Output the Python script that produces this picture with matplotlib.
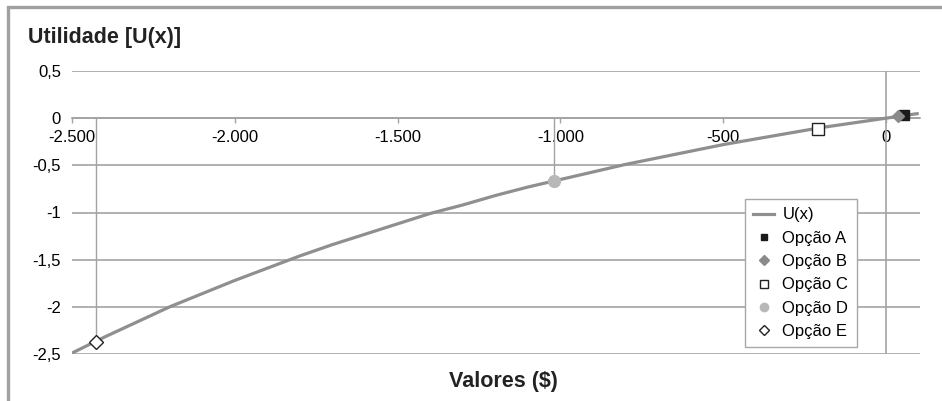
import matplotlib
matplotlib.use("Agg")
import matplotlib.pyplot as plt
from matplotlib.patches import Rectangle
from matplotlib.lines import Line2D

plt.rcParams['font.family'] = ['Liberation Sans', 'DejaVu Sans']

# Utility curve U(x), read every 100 $
valores = [-2500, -2400, -2300, -2200, -2100, -2000, -1900, -1800, -1700,
           -1600, -1500, -1400, -1300, -1200, -1100, -1000, -900, -800,
           -700, -600, -500, -400, -300, -200, -100, 0, 100]
utilidade = [-2.49, -2.32, -2.16, -2.00, -1.86, -1.72, -1.59, -1.46, -1.34,
             -1.23, -1.12, -1.01, -0.92, -0.82, -0.73, -0.65, -0.57, -0.49,
             -0.42, -0.35, -0.28, -0.22, -0.16, -0.10, -0.05, 0.00, 0.05]

# Options (value, utility)
opcoes = ['Opção A', 'Opção B', 'Opção C', 'Opção D', 'Opção E']
opcao_x = [55, 35, -210, -1020, -2425]
opcao_u = [0.03, 0.02, -0.11, -0.67, -2.37]

x_ticks = [-2500, -2000, -1500, -1000, -500, 0]
x_labels = ['-2.500', '-2.000', '-1.500', '-1.000', '-500', '0']
y_ticks = [0.5, 0, -0.5, -1, -1.5, -2, -2.5]
y_labels = ['0,5', '0', '-0,5', '-1', '-1,5', '-2', '-2,5']

grid_c = '#a3a3a3'
curve_c = '#8f8f8f'

fig = plt.figure(figsize=(9.42, 4.01), dpi=100)
ax = fig.add_axes([72 / 942, 1 - 354 / 401, (920 - 72) / 942, (354 - 71) / 401])

# chart frame
fig.patches.append(Rectangle((8 / 942, -0.1), 1.2, 1 - 7 / 401 + 0.1,
                             transform=fig.transFigure, fill=False,
                             edgecolor='#a0a0a0', lw=2.4, clip_on=False))

ax.set_xlim(-2500, 104)
ax.set_ylim(-2.5, 0.5)

ax.yaxis.grid(True, color=grid_c, lw=1.2)
ax.set_axisbelow(True)
ax.axvline(0, color=grid_c, lw=1.2, zorder=1)

for s in ['top', 'right', 'left']:
    ax.spines[s].set_visible(False)
ax.spines['bottom'].set_position(('data', 0))
ax.spines['bottom'].set_color(grid_c)
ax.spines['bottom'].set_linewidth(1.2)

ax.set_xticks(x_ticks)
ax.set_xticklabels(x_labels)
ax.set_yticks(y_ticks)
ax.set_yticklabels(y_labels)
ax.tick_params(axis='x', direction='out', length=3.5, width=1, color=grid_c,
               pad=5, labelsize=12)
ax.tick_params(axis='y', length=0, pad=8, labelsize=12)
for lab in ax.get_xticklabels():
    lab.set_zorder(6)

# drop lines from the axis to options D and E
ax.vlines([opcao_x[3], opcao_x[4]], [opcao_u[3], opcao_u[4]], 0,
          color=grid_c, lw=1, zorder=2)

ax.plot(valores, utilidade, color=curve_c, lw=2.3, zorder=3,
        solid_capstyle='butt', label='U(x)')

estilos = [
    dict(marker='s', ms=7.5, mfc='#1a1a1a', mec='#1a1a1a'),
    dict(marker='D', ms=6.5, mfc='#8a8a8a', mec='#8a8a8a'),
    dict(marker='s', ms=8, mfc='white', mec='#222222', mew=1),
    dict(marker='o', ms=8.5, mfc='#b8b8b8', mec='#b8b8b8'),
    dict(marker='D', ms=7, mfc='white', mec='#222222', mew=1),
]
for nome, x, u, st in zip(opcoes, opcao_x, opcao_u, estilos):
    ax.plot([x], [u], linestyle='none', zorder=5, clip_on=False, label=nome, **st)

# legend with smaller markers
handles = [Line2D([], [], color=curve_c, lw=2.3)]
leg_ms = [5, 5, 6, 6, 5]
for st, m in zip(estilos, leg_ms):
    d = dict(st)
    d['ms'] = m
    handles.append(Line2D([], [], linestyle='none', **d))
leg = fig.legend(handles, ['U(x)'] + opcoes, loc='upper left',
                 bbox_to_anchor=(745 / 942, 1 - 199 / 401), fontsize=12,
                 frameon=True, fancybox=False, edgecolor='#a8a8a8',
                 framealpha=1, handlelength=1.25, handletextpad=0.5,
                 labelspacing=0.5, borderpad=0.5, borderaxespad=0)
leg.get_frame().set_linewidth(1)

fig.text(28 / 942, 1 - 37 / 401, 'Utilidade [U(x)]', fontsize=15.5,
         fontweight='bold', color='#222222', ha='left', va='center')
fig.text(503 / 942, 1 - 381 / 401, 'Valores ($)', fontsize=15.5,
         fontweight='bold', color='#222222', ha='center', va='center')

fig.savefig('out.png', dpi=100)
